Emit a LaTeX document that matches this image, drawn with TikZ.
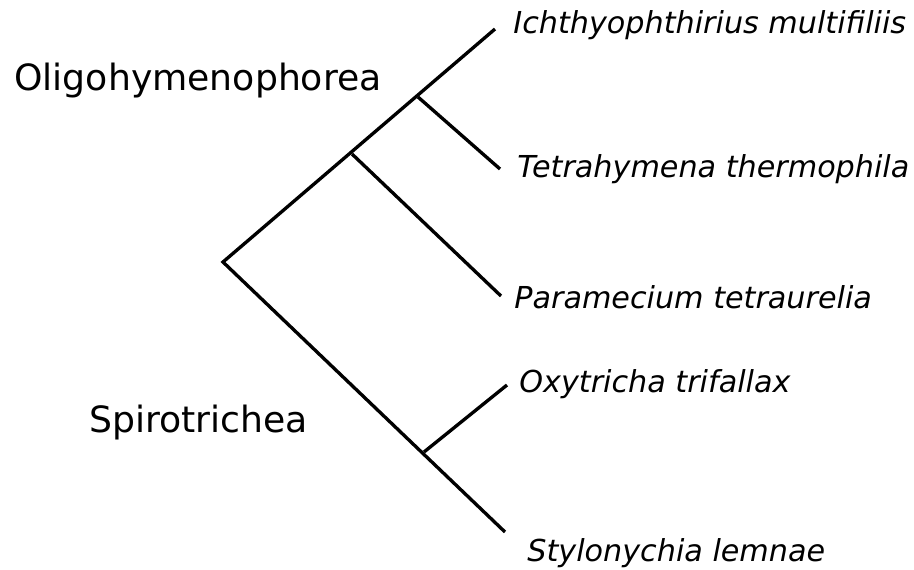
\documentclass[tikz,border=0pt]{standalone}
\usepackage{fontspec}
\setmainfont{DejaVu Sans}

\begin{document}
\begin{tikzpicture}[x=0.02cm, y=-0.02cm,
    branch/.style={line width=1.9pt, line cap=butt},
    taxon/.style={anchor=base west, inner sep=0pt, font=\fontsize{17.2}{20}\selectfont\itshape},
    group/.style={anchor=base west, inner sep=0pt, font=\fontsize{20.6}{24}\selectfont}]
    \useasboundingbox (0,0) rectangle (914,569);
    % Inner nodes
    \coordinate (root) at (223,262);
    \coordinate (para) at (352,154);
    \coordinate (tetra) at (418,97);
    \coordinate (oxy) at (424,452);
    % Leaf ends
    \coordinate (ich) at (495,29);
    \coordinate (tt) at (500,169);
    \coordinate (pt) at (501,296);
    \coordinate (ot) at (507,385);
    \coordinate (sl) at (505,532);
    % Labels
    \node[taxon] (lich) at (513,33) {Ichthyophthirius multifiliis};
    \node[taxon] (ltt) at (517,177) {Tetrahymena thermophila};
    \node[taxon] (lpt) at (514,308) {Paramecium tetraurelia};
    \node[taxon] (lot) at (519,392) {Oxytricha trifallax};
    \node[taxon] (lsl) at (527,561) {Stylonychia lemnae};
    \node[group] (oligo) at (14,90) {Oligohymenophorea};
    \node[group] (spiro) at (89,432) {Spirotrichea};
    % Branches
    \draw[branch] (ich) -- (root) -- (sl);
    \draw[branch] (tetra) -- (tt);
    \draw[branch] (para) -- (pt);
    \draw[branch] (oxy) -- (ot);
\end{tikzpicture}
\end{document}
